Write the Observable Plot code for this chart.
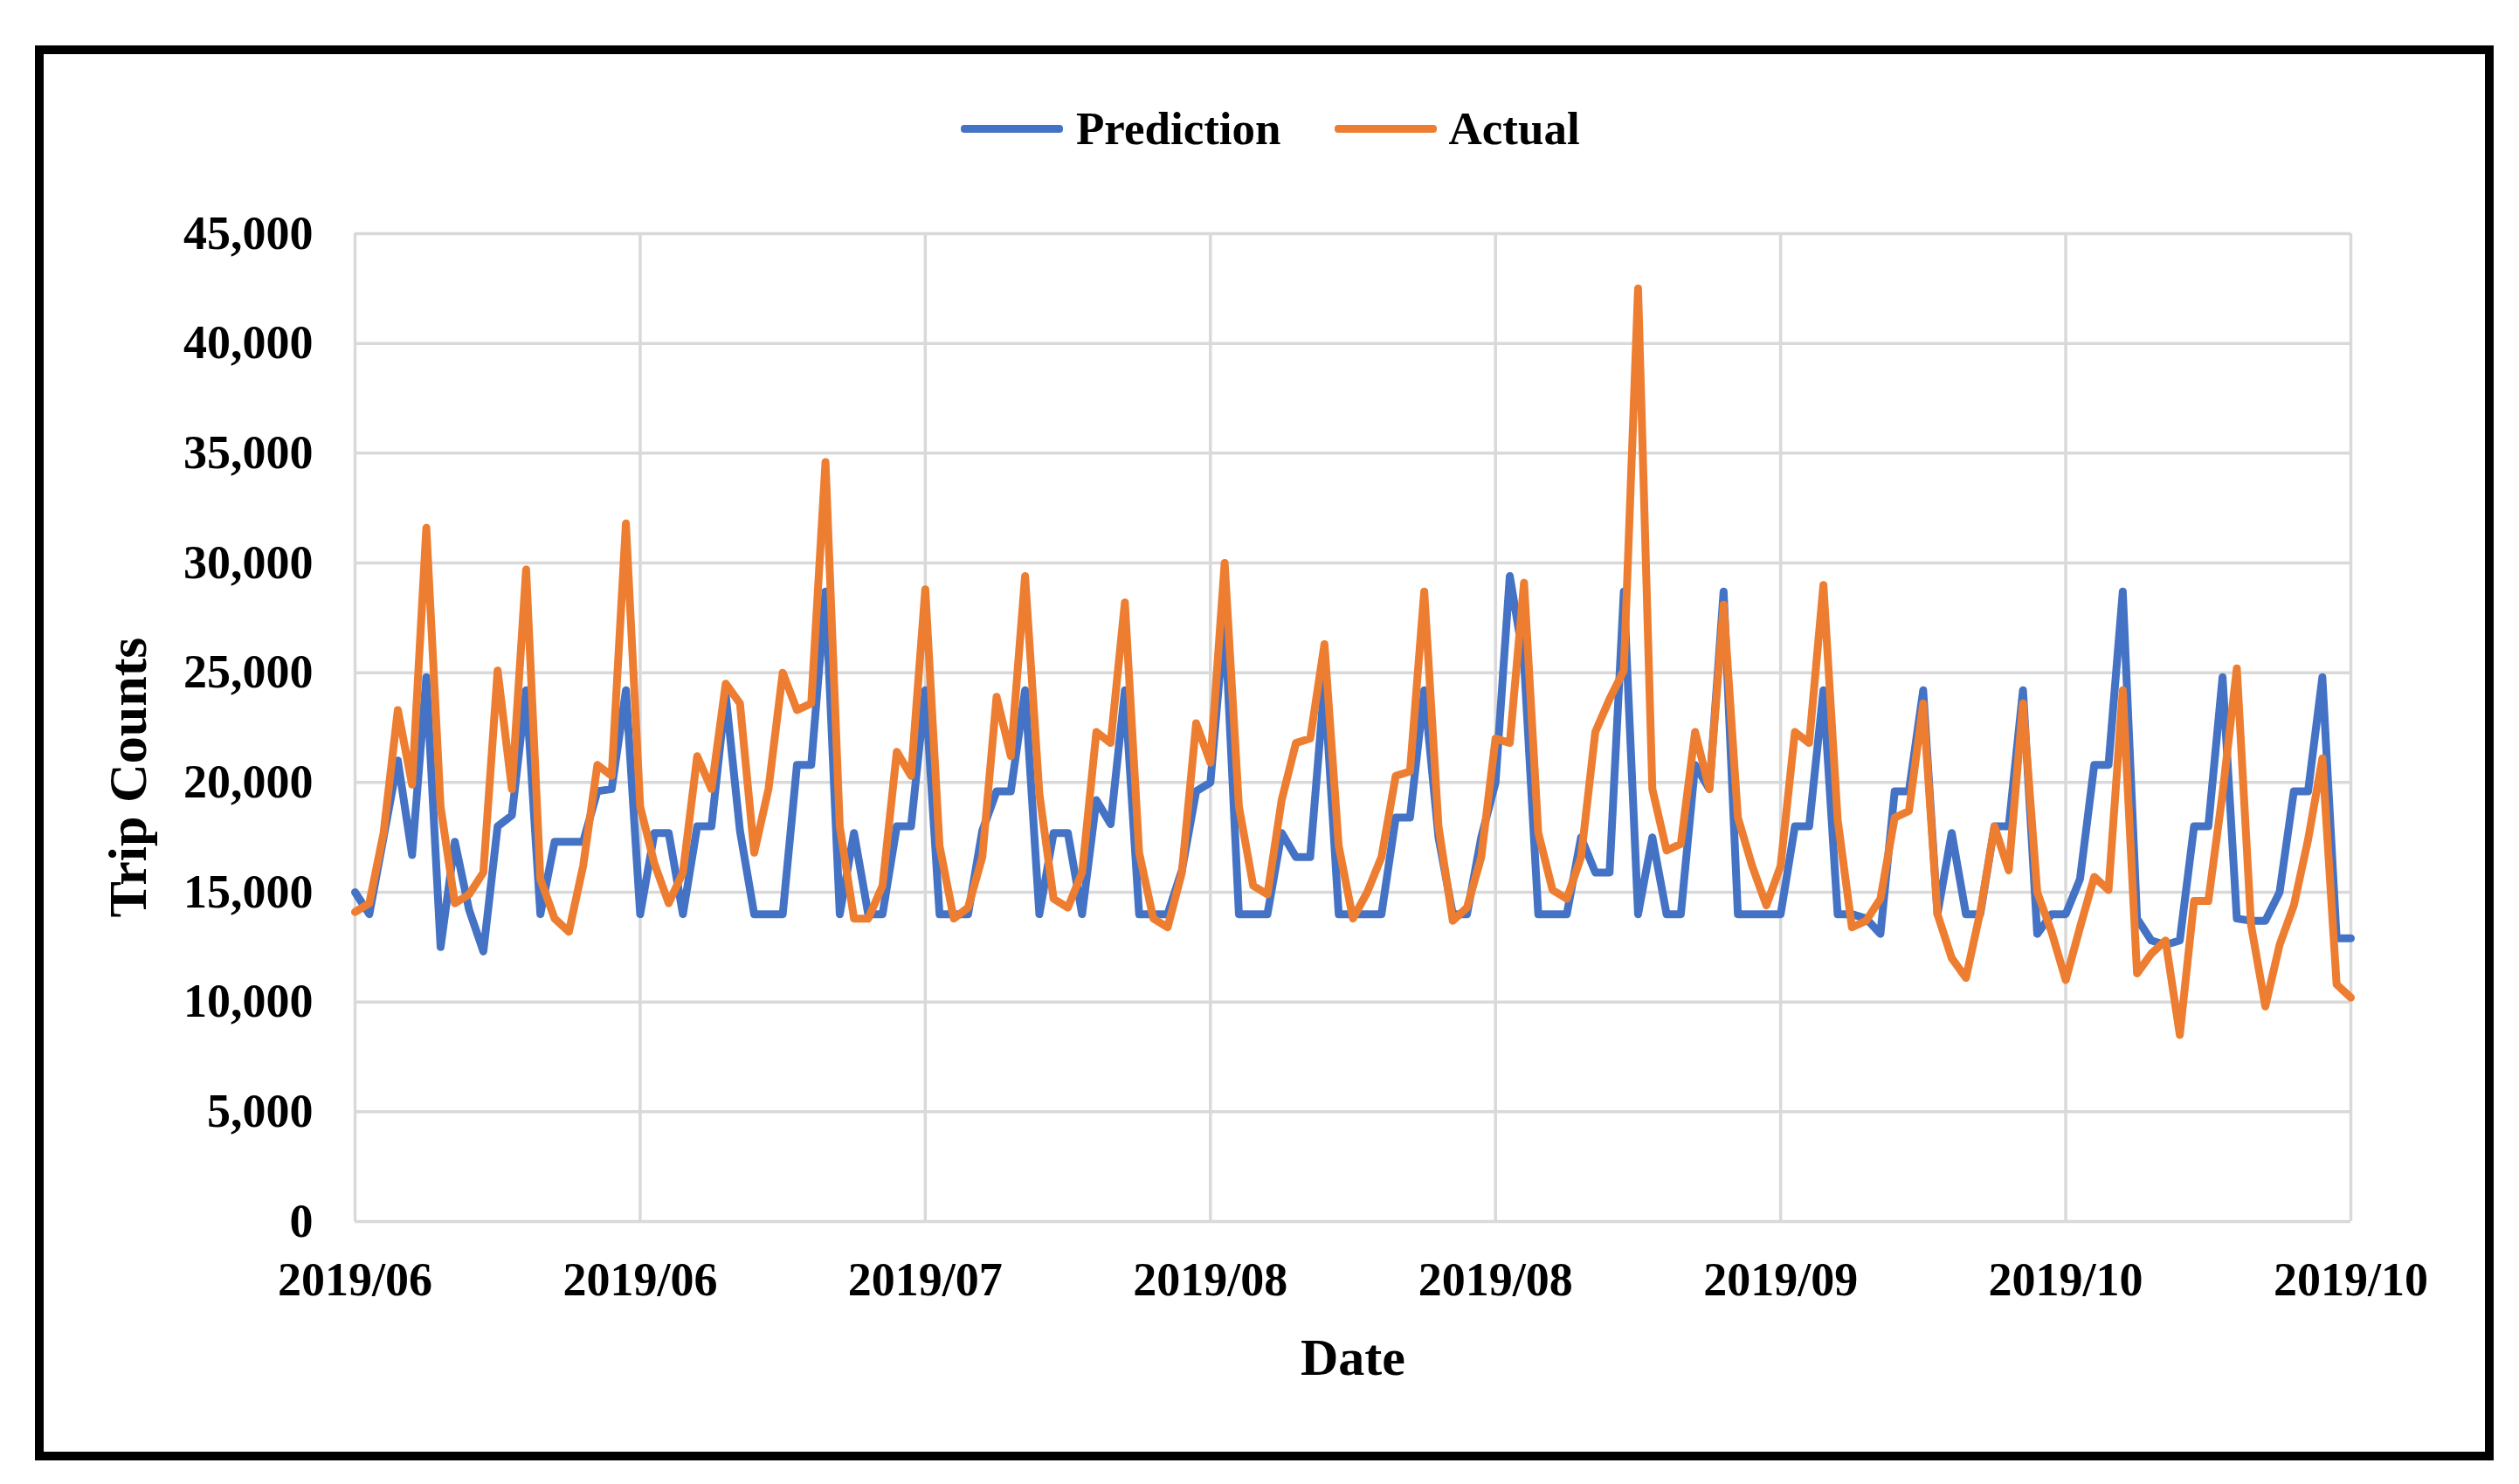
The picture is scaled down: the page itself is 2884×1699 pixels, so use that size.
<!DOCTYPE html>
<html><head><meta charset="utf-8">
<script src="https://cdn.jsdelivr.net/npm/d3@7"></script>
<script src="https://cdn.jsdelivr.net/npm/@observablehq/plot@0.6"></script>
<style>
html,body{margin:0;padding:0;background:#fff;overflow:hidden;}
#wrap{position:relative;width:2884px;height:1699px;font-family:"Liberation Serif","Times New Roman",serif;font-weight:bold;color:#000;}
#legend{position:relative;height:200px;}
#legend .items{position:absolute;left:1100px;top:117px;height:60px;display:flex;align-items:center;}
.sw{display:inline-block;width:117px;height:9px;border-radius:4px;}
.lab{font-size:53px;line-height:60px;}
#frame{position:absolute;left:40px;top:52px;width:2815px;height:1620px;border:10px solid #000;box-sizing:border-box;pointer-events:none;}
svg{display:block;}
</style></head>
<body>
<div id="wrap">
  <div id="legend"><div class="items">
    <span class="sw" style="background:#4472C4;margin-right:15px"></span><span class="lab">Prediction</span>
    <span class="sw" style="background:#ED7D31;margin-left:61px;margin-right:14px"></span><span class="lab">Actual</span>
  </div></div>
  <div id="chart"></div>
  <div id="frame"></div>
</div>
<script>
// Data (daily values, one per day index)
const prediction = [
15000,14000,17500,21000,16700,24800,12500,17300,14200,12300,
18000,18500,24200,14000,17300,17300,17300,19600,19700,24200,
14000,17700,17700,14000,18000,18000,24000,17800,14000,14000,
14000,20800,20800,28700,14000,17700,14000,14000,18000,18000,
24200,14000,14000,14000,17800,19600,19600,24200,14000,17700,
17700,14000,19200,18100,24200,14000,14000,14000,16000,19600,
20000,27500,14000,14000,14000,17700,16600,16600,24500,14000,
14000,14000,14000,18400,18400,24200,17500,14000,14000,17500,
20000,29400,25500,14000,14000,14000,17500,15900,15900,28700,
14000,17500,14000,14000,20800,19700,28700,14000,14000,14000,
14000,18000,18000,24200,14000,14000,13800,13100,19600,19600,
24200,14000,17700,14000,14000,18000,18000,24200,13100,14000,
14000,15600,20800,20800,28700,13800,12800,12600,12800,18000,
18000,24800,13800,13700,13700,15000,19600,19600,24800,12900,
12900];
const actual = [
14100,14500,17700,23300,19900,31600,18900,14500,14900,15900,
25100,19700,29700,15600,13800,13200,16200,20800,20300,31800,
18900,16300,14500,15900,21200,19700,24500,23600,16800,19700,
25000,23300,23600,34600,18000,13800,13800,15300,21400,20300,
28800,17100,13800,14300,16600,23900,21200,29400,19500,14700,
14300,15900,22300,21800,28200,16800,13800,13400,15900,22700,
20900,30000,18900,15300,14900,19200,21800,22000,26300,17100,
13800,15000,16600,20300,20500,28700,18000,13700,14300,16600,
22000,21800,29100,17700,15100,14700,16600,22300,23800,25100,
42500,19700,16900,17200,22300,19700,28100,18400,16200,14400,
16200,22300,21800,29000,18300,13400,13700,14700,18400,18700,
23600,14000,12000,11100,14100,18000,16000,23600,15000,13200,
11000,13400,15700,15100,24200,11300,12200,12800,8500,14600,
14600,19500,25200,13500,9800,12600,14400,17400,21100,10800,
10200];
const xTickPos = [0, 20, 40, 60, 80, 100, 120, 140];
const xTickLabels = ["2019/06","2019/06","2019/07","2019/08","2019/08","2019/09","2019/10","2019/10"];
const yTicks = [0,5000,10000,15000,20000,25000,30000,35000,40000,45000];
const seriesNames = ["Prediction", "Actual"];
const seriesColors = ["#4472C4", "#ED7D31"];

const rows = prediction.map((p, i) => ({day: i, pred: p, act: actual[i]}));
const font = '"Liberation Serif","Times New Roman",serif';
const xFmt = d => xTickLabels[xTickPos.indexOf(d)];

const chart = Plot.plot({
  width: 2884, height: 1499,
  marginLeft: 406, marginRight: 193, marginTop: 67, marginBottom: 301,
  style: {fontFamily: font, fontWeight: "bold", fontSize: "54px", color: "#000", background: "#fff", overflow: "visible"},
  x: {domain: [0, 140]},
  y: {domain: [0, 45000]},
  marks: [
    Plot.gridY(yTicks, {stroke: "#d9d9d9", strokeOpacity: 1, strokeWidth: 3.5}),
    Plot.gridX(xTickPos, {stroke: "#d9d9d9", strokeOpacity: 1, strokeWidth: 3.5}),
    Plot.axisX(xTickPos, {tickSize: 0, tickPadding: 46, tickFormat: xFmt, label: null, fontSize: 54, fontWeight: "bold"}),
    Plot.axisY(yTicks, {tickSize: 0, tickPadding: 48, tickFormat: d3.format(","), label: null, fontSize: 54, fontWeight: "bold"}),
    Plot.line(rows, {x: "day", y: "pred", stroke: seriesColors[0], strokeWidth: 9, strokeLinejoin: "round", strokeLinecap: "round"}),
    Plot.line(rows, {x: "day", y: "act", stroke: seriesColors[1], strokeWidth: 9, strokeLinejoin: "round", strokeLinecap: "round"}),
    Plot.text(["Date"], {text: d => d, frameAnchor: "bottom", lineAnchor: "middle", textAnchor: "middle", dy: 156, fontSize: 60, fontWeight: "bold"}),
    Plot.text(["Trip Counts"], {text: d => d, frameAnchor: "left", textAnchor: "middle", lineAnchor: "middle", dx: -259, dy: 57, rotate: -90, fontSize: 62, fontWeight: "bold"})
  ]
});
document.getElementById("chart").appendChild(chart);
</script>
</body></html>
